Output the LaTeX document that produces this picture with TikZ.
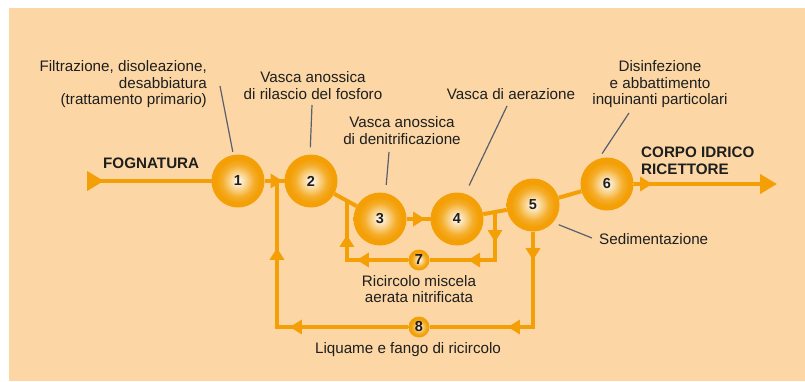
\documentclass[tikz,border=0pt]{standalone}
\usepackage{fontspec}
\setmainfont{Liberation Sans}
\usetikzlibrary{arrows.meta}
\usetikzlibrary{calc, decorations.markings}

\definecolor{peach}{RGB}{252,215,165}
\definecolor{pipeorange}{RGB}{243,159,5}
\definecolor{leadgrey}{RGB}{88,96,110}
\definecolor{inkblack}{RGB}{30,30,30}

\pgfdeclareradialshading{stageball}{\pgfpoint{0bp}{0bp}}{%
  color(0bp)=(white); color(5bp)=(pipeorange!30!white);
  color(15bp)=(pipeorange!85!white); color(21bp)=(pipeorange);
  color(50bp)=(pipeorange)}

\tikzset{
  flowtip/.tip={Triangle[length=12pt,width=14pt]},
  bigtip/.tip={Triangle[length=17pt,width=19pt]},
  pipe/.style={draw=pipeorange, line width=4pt},
  tipat/.style={postaction={decorate, decoration={markings, mark=at position #1 with {\arrow{flowtip}}}}},
  stage/.style={circle, minimum size=53pt, inner sep=0pt, shading=stageball,
    font=\fontsize{14.5}{15}\selectfont\bfseries, text=inkblack},
  loopstage/.style={stage, minimum size=21pt},
  txt/.style={inner sep=0pt, text=inkblack, font=\fontsize{15.2}{16.5}\selectfont},
  bold txt/.style={txt, font=\fontsize{15.2}{17}\selectfont\bfseries},
  leader/.style={draw=leadgrey, line width=1.2pt},
}

\begin{document}
\begin{tikzpicture}[x=1pt, y=-1pt]
  \useasboundingbox (0,0) rectangle (805,381);
  \fill[peach] (9,8) rectangle (805,381);

  % --- stages ---
  \node[stage] (c1) at (238,181) {1};
  \node[stage] (c2) at (311,181) {2};
  \node[stage] (c3) at (380,219) {3};
  \node[stage] (c4) at (457,219) {4};
  \node[stage] (c5) at (533,205) {5};
  \node[stage] (c6) at (607,184) {6};
  \node[loopstage] (c7) at (419,260) {7};
  \node[loopstage] (c8) at (419,327) {8};

  \coordinate (inlet) at (87,181);
  \coordinate (outlet) at (777,184);
  \coordinate (j1) at ($(c1)!.534!(c2)$);
  \coordinate (t7) at ($(c4)!.5!(c5)$);
  \coordinate (t7l) at ($(c2)!.52!(c3)$);

  % --- main line ---
  \draw[pipe, {bigtip[reversed]}-] (inlet) -- (c1);
  \draw[pipe, tipat=18pt] (c1) -- (c2);
  \draw[pipe] (c2) -- (c3);
  \draw[pipe, tipat=18.5pt] (c3) -- (c4);
  \draw[pipe] (c4) -- (c5);
  \draw[pipe] (c5) -- (c6);
  \draw[pipe, tipat=18.5pt, -{bigtip}] (c6) -- (outlet);

  % --- recirculation 7 ---
  \draw[pipe, tipat=30pt, tipat=75pt] (t7) |- (c7);
  \draw[pipe, tipat=51.5pt, tipat=86.5pt] (c7) -| (t7l);

  % --- recirculation 8 ---
  \draw[pipe, tipat=28.5pt, tipat=120.5pt] (c5) |- (c8);
  \draw[pipe, tipat=118.5pt, tipat=210.5pt] (c8) -| (j1);

  % --- labels ---
  \node[bold txt, anchor=north west] (fogna) at (103,158) {FOGNATURA};
  \node[bold txt, anchor=north west, align=left] (corpo) at (641,147) {CORPO IDRICO\\RICETTORE};
  \node[txt, anchor=north east, align=right] (prim) at (207,60.5)
    {Filtrazione, disoleazione,\\desabbiatura\\(trattamento primario)};
  \node[txt, anchor=north, align=center] (fosf) at (313,71.5) {Vasca anossica\\di rilascio del fosforo};
  \node[txt, anchor=north, align=center] (denit) at (402,116.5) {Vasca anossica\\di denitrificazione};
  \node[txt, anchor=north] (aeraz) at (511,88.5) {Vasca di aerazione};
  \node[txt, anchor=north, align=center] (disinf) at (660,60.5)
    {Disinfezione\\e abbattimento\\inquinanti particolari};
  \node[txt, anchor=north west] (sedim) at (599,233) {Sedimentazione};
  \node[txt, anchor=north, align=center] (ricmix) at (419,275) {Ricircolo miscela\\aerata nitrificata};
  \node[txt, anchor=north] (ricfango) at (408,342) {Liquame e fango di ricircolo};

  % --- leaders ---
  \coordinate (l1) at (220,86);
  \coordinate (l2) at (312,105);
  \coordinate (l3) at (389,152);
  \coordinate (l4) at (507,106);
  \coordinate (l5) at (592,238);
  \coordinate (l6) at (629,113);
  \draw[leader, shorten >=3pt] (l1) -- (c1.100);
  \draw[leader, shorten >=7pt] (l2) -- (c2.92);
  \draw[leader, shorten >=8pt] (l3) -- (c3.78);
  \draw[leader, shorten >=9pt] (l4) -- (c4.72);
  \draw[leader, shorten <=6pt] (c5.-41) -- (l5);
  \draw[leader, shorten >=6pt] (l6) -- (c6.108);
\end{tikzpicture}
\end{document}
